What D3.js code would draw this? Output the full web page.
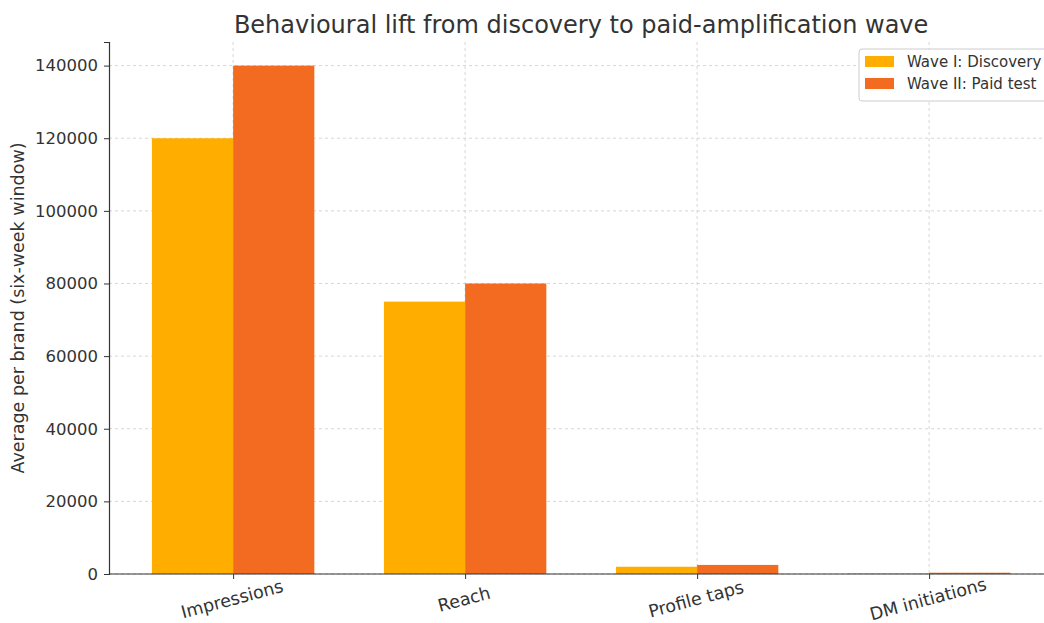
<!DOCTYPE html>
<html>
<head>
<meta charset="utf-8">
<script src="https://cdn.jsdelivr.net/npm/d3@7"></script>
<style>
  body { margin: 0; background: #fff; }
  text { font-family: "DejaVu Sans", sans-serif; fill: #333; }
</style>
</head>
<body>
<div id="chart"></div>
<script>
var categories = ["Impressions", "Reach", "Profile taps", "DM initiations"];
var seriesNames = ["Wave I: Discovery", "Wave II: Paid test"];
var waveOne = [120000, 75000, 2000, 120];
var waveTwo = [140000, 80000, 2500, 350];
var yTicks = [0, 20000, 40000, 60000, 80000, 100000, 120000, 140000];
var colors = ["#FFAE00", "#F26B21"];

var width = 1044, height = 623;
var margin = {left: 109, top: 42, bottom: 49};
var plotBottom = height - margin.bottom;

var svg = d3.select("#chart").append("svg")
    .attr("width", width)
    .attr("height", height);

// category index scale, matplotlib-like margins
var x = d3.scaleLinear()
    .domain([-0.535, 3.535])
    .range([margin.left, margin.left + 4.07 * 232]);
var barW = x(0.35) - x(0);

var y = d3.scaleLinear()
    .domain([0, 146500])
    .range([plotBottom, margin.top]);

// grid
var grid = svg.append("g");
grid.selectAll(".gy")
    .data(yTicks)
    .enter().append("line")
    .attr("x1", margin.left).attr("x2", width)
    .attr("y1", function (d) { return y(d); })
    .attr("y2", function (d) { return y(d); })
    .attr("stroke", "#ccc").attr("stroke-width", 0.8)
    .attr("stroke-dasharray", "3,3");
grid.selectAll(".gx")
    .data(categories)
    .enter().append("line")
    .attr("x1", function (d, i) { return x(i); })
    .attr("x2", function (d, i) { return x(i); })
    .attr("y1", margin.top).attr("y2", plotBottom)
    .attr("stroke", "#ccc").attr("stroke-width", 0.8)
    .attr("stroke-dasharray", "3,3");

// bars
[waveOne, waveTwo].forEach(function (vals, s) {
    svg.append("g").selectAll("rect")
        .data(vals)
        .enter().append("rect")
        .attr("x", function (d, i) { return s == 0 ? x(i) - barW : x(i); })
        .attr("y", function (d) { return y(d); })
        .attr("width", barW)
        .attr("height", function (d) { return plotBottom - y(d); })
        .attr("fill", colors[s]);
});

// y axis
var yAxis = svg.append("g")
    .attr("transform", "translate(" + margin.left + ",0)")
    .call(d3.axisLeft(y).tickValues(yTicks).tickFormat(d3.format("d")).tickSize(5).tickPadding(6));
yAxis.select(".domain").attr("stroke", "#333").attr("stroke-width", 1.2);
yAxis.selectAll(".tick line").attr("stroke", "#333");
yAxis.selectAll("text").style("font-size", "16.5px").attr("fill", "#333");

// x axis
var xAxis = svg.append("g")
    .attr("transform", "translate(0," + plotBottom + ")")
    .call(d3.axisBottom(x).tickValues([0, 1, 2, 3]).tickFormat(function (d) { return categories[d]; }).tickSize(5).tickSizeOuter(0));
xAxis.select(".domain").attr("stroke", "#333").attr("stroke-width", 1.2)
    .attr("d", "M" + margin.left + ",0H" + width);
xAxis.selectAll(".tick line").attr("stroke", "#333");
xAxis.selectAll("text")
    .style("font-size", "17.5px").attr("fill", "#333")
    .attr("text-anchor", "middle")
    .attr("y", 0).attr("dy", 0)
    .attr("transform", "translate(0,31) rotate(-15)");

// y label
svg.append("text")
    .attr("transform", "translate(24," + ((margin.top + plotBottom) / 2) + ") rotate(-90)")
    .attr("text-anchor", "middle")
    .style("font-size", "17.5px")
    .text("Average per brand (six-week window)");

// title
svg.append("text")
    .attr("x", x(1.5))
    .attr("y", 33)
    .attr("text-anchor", "middle")
    .style("font-size", "24px")
    .text("Behavioural lift from discovery to paid-amplification wave");

// legend
var legend = svg.append("g").attr("transform", "translate(859,49)");
legend.append("rect")
    .attr("width", 200).attr("height", 52).attr("rx", 3)
    .attr("fill", "#fff").attr("fill-opacity", 0.85)
    .attr("stroke", "#ccc");
seriesNames.forEach(function (name, i) {
    legend.append("rect")
        .attr("x", 6).attr("y", 7 + i * 22)
        .attr("width", 29).attr("height", 11)
        .attr("fill", colors[i]);
    legend.append("text")
        .attr("x", 48).attr("y", 18 + i * 22)
        .style("font-size", "15px")
        .text(name);
});
</script>
</body>
</html>
